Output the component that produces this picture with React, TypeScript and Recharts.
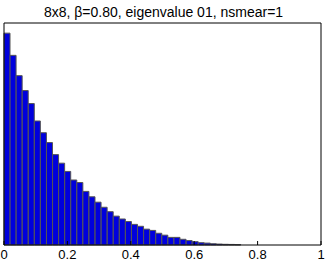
import { ComposedChart, Bar, Line, XAxis, YAxis } from "recharts"

// histogram: bin width and counts
const binWidth = 0.01915
const counts = [
  3340, 2990, 2670, 2435, 2230, 1955, 1770, 1615, 1425, 1290,
  1160, 1025, 985, 845, 760, 675, 595, 525, 455, 410,
  370, 325, 295, 250, 230, 185, 155, 120, 120, 90,
  70, 52, 36, 30, 20, 15, 11, 9, 6,
]
const xTicks = [0, 0.2, 0.4, 0.6, 0.8, 1]
const title = "8x8, β=0.80, eigenvalue 01, nsmear=1"

const data = counts.map((c, i) => ({ x: (i + 0.5) * binWidth, count: c }))

export default function App() {
  return (
    <div style={{ position: "absolute", left: 0, top: 0, width: 327, height: 262, background: "#fff", fontFamily: "'Liberation Sans', Arial, sans-serif" }}>
      <div style={{ position: "absolute", top: 4, left: 0, width: 327, textAlign: "center", fontSize: 14, lineHeight: "16px", color: "#000" }}>{title}</div>
      <ComposedChart width={327} height={262} data={data} margin={{ top: 22, right: 5, left: 3, bottom: 0 }} barCategoryGap={0} barGap={0}>
        <XAxis
          dataKey="x"
          type="number"
          domain={[0, 1]}
          ticks={xTicks}
          height={17}
          tickSize={-4}
          tickMargin={9}
          tick={{ fill: "#000", fontSize: 13 }}
          axisLine={{ stroke: "#000" }}
          tickLine={{ stroke: "#000" }}
        />
        <XAxis
          xAxisId="top"
          orientation="top"
          dataKey="x"
          type="number"
          domain={[0, 1]}
          ticks={xTicks}
          height={1}
          tickSize={-4}
          tick={false}
          axisLine={{ stroke: "#000" }}
          tickLine={{ stroke: "#000" }}
        />
        <YAxis domain={[0, 3500]} width={1} tick={false} tickLine={false} axisLine={{ stroke: "#000" }} />
        <YAxis yAxisId="r" orientation="right" domain={[0, 3500]} width={1} tick={false} tickLine={false} axisLine={{ stroke: "#000" }} />
        <Bar dataKey="count" fill="#0000dd" stroke="#555" strokeWidth={1} isAnimationActive={false} />
        <Line xAxisId="top" yAxisId="r" dataKey="count" stroke="none" dot={false} activeDot={false} isAnimationActive={false} />
      </ComposedChart>
    </div>
  )
}
